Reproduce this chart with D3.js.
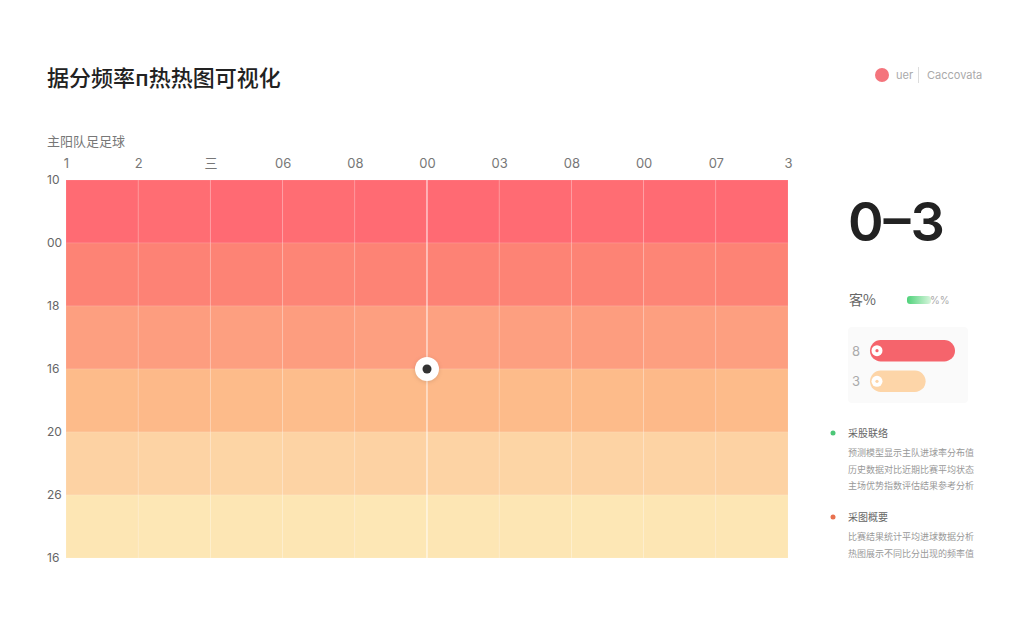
<!DOCTYPE html>
<html>
<head>
<meta charset="utf-8">
<script src="https://cdn.jsdelivr.net/npm/d3@7/dist/d3.min.js"></script>
<style>
  html, body { margin: 0; padding: 0; background: #ffffff; }
  svg { display: block; }
  text { font-family: Inter, "Noto Sans CJK SC", sans-serif; }
  .cjk { font-family: "Noto Sans CJK SC", sans-serif; }
</style>
</head>
<body>
<svg id="chart" width="1024" height="640"></svg>
<script>
// ---------- data ----------
const title = "据分频率п热热图可视化";
const axisTitle = "主阳队足足球";
const xLabels = ["1", "2", "三", "06", "08", "00", "03", "08", "00", "07", "3"];
const yLabels = ["10", "00", "18", "16", "20", "26", "16"];

const row1 = [96, 95, 97, 95, 96, 97, 96, 95, 96, 97];
const row2 = [80, 81, 80, 79, 80, 81, 80, 80, 79, 80];
const row3 = [64, 65, 64, 65, 64, 63, 64, 65, 64, 64];
const row4 = [48, 49, 48, 47, 48, 49, 48, 48, 49, 48];
const row5 = [33, 32, 31, 32, 33, 32, 31, 32, 32, 33];
const row6 = [18, 17, 18, 18, 17, 18, 18, 17, 18, 18];
const rows = [row1, row2, row3, row4, row5, row6];

const colorStops = [18, 33, 48, 64, 80, 96];
const colorRange = ["#fde6b4", "#fdd2a3", "#fdbb8a", "#fd9f80", "#fd8375", "#ff6b73"];

const marker = { col: 5, row: 3 };

const legendItems = ["uer", "Caccovata"];
const bigStat = "0–3";
const statLabel = "客%";
const statLegend = "%%";
const barLabels = ["8", "3"];
const barValues = [8, 3];
const barColors = ["#f5646c", "#fdd5a8"];

const notes = [
  { color: "#4cc777", head: "采股联络", lines: ["预测模型显示主队进球率分布值", "历史数据对比近期比赛平均状态", "主场优势指数评估结果参考分析"] },
  { color: "#e8714f", head: "采图概要", lines: ["比赛结果统计平均进球数据分析", "热图展示不同比分出现的频率值"] }
];

// ---------- layout ----------
const svg = d3.select("#chart");
const L = 66, R = 788, T = 180, B = 558;

const x = d3.scaleLinear().domain([0, xLabels.length - 1]).range([L, R]);
const y = d3.scaleLinear().domain([0, yLabels.length - 1]).range([T, B]);
const color = d3.scaleLinear().domain(colorStops).range(colorRange);

// title
svg.append("text").attr("class", "cjk")
  .attr("x", 47).attr("y", 86)
  .attr("font-size", 22).attr("font-weight", 500).attr("fill", "#222")
  .text(title);

// top-right legend
svg.append("circle").attr("cx", 882).attr("cy", 75).attr("r", 7).attr("fill", "#f4747c");
svg.append("text").attr("x", 896).attr("y", 79).attr("font-size", 11).attr("fill", "#aaa").text(legendItems[0]);
svg.append("line").attr("x1", 918.5).attr("x2", 918.5).attr("y1", 67).attr("y2", 83).attr("stroke", "#ddd");
svg.append("text").attr("x", 927).attr("y", 79).attr("font-size", 11).attr("fill", "#aaa").text(legendItems[1]);

// axis title
svg.append("text").attr("class", "cjk")
  .attr("x", 47).attr("y", 146)
  .attr("font-size", 13).attr("fill", "#777")
  .text(axisTitle);

// cells
const cells = [];
rows.forEach((r, ri) => r.forEach((v, ci) => cells.push({ ri, ci, v })));
svg.append("g").selectAll("rect").data(cells).join("rect")
  .attr("x", d => x(d.ci))
  .attr("y", d => y(d.ri))
  .attr("width", d => x(d.ci + 1) - x(d.ci))
  .attr("height", d => y(d.ri + 1) - y(d.ri))
  .attr("fill", d => color(d.v))
  .attr("stroke", "rgba(255,255,255,0.12)")
  .attr("stroke-width", 1);

// x labels (top)
const xAxis = d3.axisTop(x).tickValues(d3.range(xLabels.length)).tickFormat(i => xLabels[i]).tickSize(0).tickPadding(0);
const gx = svg.append("g").attr("transform", `translate(0,168)`).call(xAxis);
gx.select(".domain").remove();
gx.selectAll("text").attr("font-size", 13).attr("fill", "#777")
  .attr("font-family", "Inter, 'Noto Sans CJK SC', sans-serif");

// y labels (left)
const yAxis = d3.axisLeft(y).tickValues(d3.range(yLabels.length)).tickFormat(i => yLabels[i]).tickSize(0).tickPadding(0);
const gy = svg.append("g").attr("transform", `translate(47,0)`).call(yAxis);
gy.select(".domain").remove();
gy.selectAll("text").attr("font-size", 12).attr("fill", "#666").attr("text-anchor", "start")
  .attr("font-family", "Inter, sans-serif");

// crosshair + marker
svg.append("line")
  .attr("x1", x(marker.col)).attr("x2", x(marker.col))
  .attr("y1", T).attr("y2", B)
  .attr("stroke", "rgba(255,255,255,0.7)").attr("stroke-width", 1.2);
svg.append("circle").attr("cx", x(marker.col)).attr("cy", y(marker.row)).attr("r", 12)
  .attr("fill", "#fff").style("filter", "drop-shadow(0 1px 2px rgba(0,0,0,0.12))");
svg.append("circle").attr("cx", x(marker.col)).attr("cy", y(marker.row)).attr("r", 4.5).attr("fill", "#333");

// right panel big stat
svg.append("text").attr("x", 848).attr("y", 241)
  .attr("font-size", 54).attr("font-weight", 600).attr("fill", "#222")
  .attr("font-family", "'Liberation Sans', Arial, sans-serif")
  .text(bigStat);

svg.append("text").attr("class", "cjk").attr("x", 849).attr("y", 305)
  .attr("font-size", 14).attr("fill", "#666").text(statLabel);
const grad = svg.append("defs").append("linearGradient").attr("id", "g1");
grad.append("stop").attr("offset", "0%").attr("stop-color", "#4fd27a");
grad.append("stop").attr("offset", "100%").attr("stop-color", "#d8f5dd");
svg.append("rect").attr("x", 907).attr("y", 296).attr("width", 24).attr("height", 8).attr("rx", 3).attr("fill", "url(#g1)");
svg.append("text").attr("x", 930).attr("y", 304).attr("font-size", 10).attr("fill", "#aaa").text(statLegend);

// bar card
svg.append("rect").attr("x", 848).attr("y", 327).attr("width", 120).attr("height", 76).attr("rx", 4).attr("fill", "#fafafa");
const bx = d3.scaleLinear().domain([0, 8]).range([38, 85]);
const by = d3.scaleBand().domain(barLabels.map((d, i) => i)).range([340, 392]).paddingInner(0.3);
barLabels.forEach((lab, i) => {
  const cy = by(i) + by.bandwidth() / 2;
  svg.append("text").attr("x", 852).attr("y", cy + 5).attr("font-size", 13).attr("fill", "#aaa").text(lab);
  svg.append("rect").attr("x", 870).attr("y", by(i)).attr("width", bx(barValues[i])).attr("height", by.bandwidth())
    .attr("rx", by.bandwidth() / 2).attr("fill", barColors[i]);
  svg.append("circle").attr("cx", 877).attr("cy", cy).attr("r", 5.5).attr("fill", "#fff");
  svg.append("circle").attr("cx", 877).attr("cy", cy).attr("r", 1.6).attr("fill", barColors[i]);
});

// notes
let ny = 433;
notes.forEach(n => {
  svg.append("circle").attr("cx", 833).attr("cy", ny).attr("r", 2.5).attr("fill", n.color);
  svg.append("text").attr("class", "cjk").attr("x", 848).attr("y", ny + 4).attr("font-size", 10).attr("fill", "#666").text(n.head);
  n.lines.forEach((ln, k) => {
    svg.append("text").attr("class", "cjk").attr("x", 848).attr("y", ny + 23 + k * 16.5)
      .attr("font-size", 9).attr("fill", "#999").text(ln);
  });
  ny += 84;
});
</script>
</body>
</html>
